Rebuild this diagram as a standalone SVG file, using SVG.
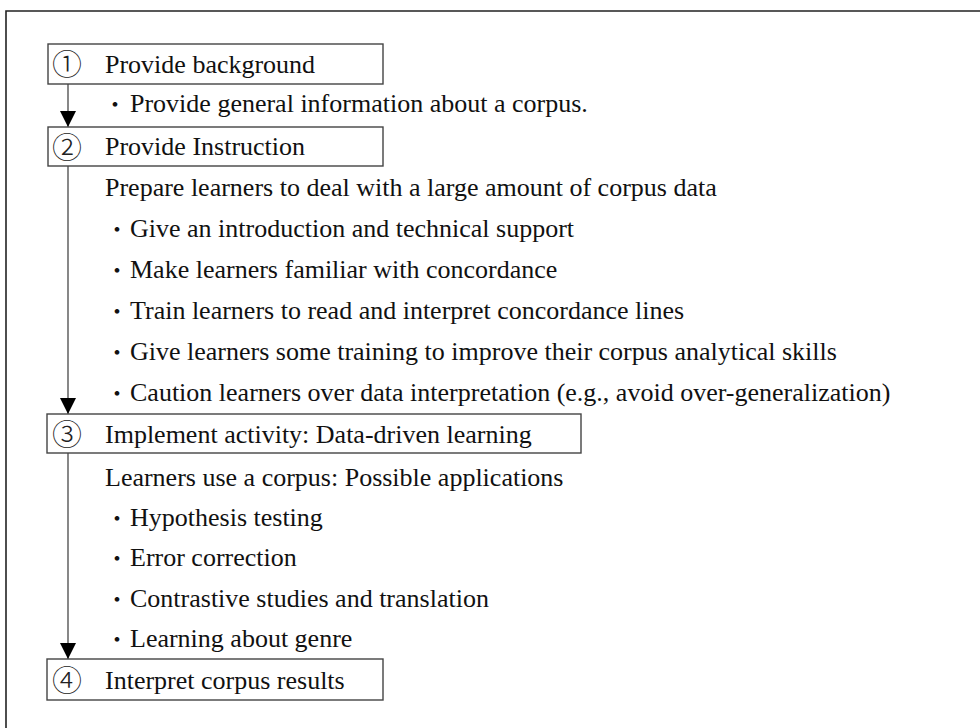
<svg xmlns="http://www.w3.org/2000/svg" width="980" height="728" viewBox="0 0 980 728">
<style>
.t{font-family:"Liberation Serif","Times New Roman",serif;font-size:26px;fill:#111;}
.n{font-family:"Noto Sans CJK JP","DejaVu Sans",sans-serif;font-size:30px;fill:#222;font-weight:300;}
.d{font-family:"Noto Sans CJK JP","DejaVu Sans",sans-serif;font-size:22px;fill:#111;}
.box{fill:#fff;stroke:#444;stroke-width:1.4;}
.conn{stroke:#555;stroke-width:1.4;fill:none;marker-end:url(#ah);}
</style>
<defs>
<marker id="ah" viewBox="0 0 16 16" refX="16" refY="8" markerWidth="16" markerHeight="16" markerUnits="userSpaceOnUse" orient="auto">
<path d="M0,0 L16,8 L0,16 z" fill="#000"/>
</marker>
</defs>
<rect width="980" height="728" fill="#fff"/>
<path d="M6,728 L6,11 L980,11" fill="none" stroke="#222" stroke-width="1.6"/>

<g id="connectors">
<line class="conn" x1="68" y1="84" x2="68" y2="127"/>
<line class="conn" x1="68" y1="166" x2="68" y2="414"/>
<line class="conn" x1="68" y1="453" x2="68" y2="659"/>
</g>

<g id="step1">
<rect class="box" x="48" y="44" width="335" height="40"/>
<text class="n" x="67" y="75" text-anchor="middle">①</text>
<text class="t" x="105" y="73">Provide background</text>
</g>
<g id="step1-notes">
<text class="d" x="115" y="112" text-anchor="middle">・</text>
<text class="t" x="130" y="112">Provide general information about a corpus.</text>
</g>

<g id="step2">
<rect class="box" x="48" y="127" width="335" height="39"/>
<text class="n" x="67" y="158" text-anchor="middle">②</text>
<text class="t" x="105" y="155">Provide Instruction</text>
</g>
<g id="step2-notes">
<text class="t" x="105" y="196">Prepare learners to deal with a large amount of corpus data</text>
<text class="d" x="117" y="237" text-anchor="middle">・</text>
<text class="t" x="130" y="237">Give an introduction and technical support</text>
<text class="d" x="117" y="278" text-anchor="middle">・</text>
<text class="t" x="130" y="278">Make learners familiar with concordance</text>
<text class="d" x="117" y="319" text-anchor="middle">・</text>
<text class="t" x="130" y="319">Train learners to read and interpret concordance lines</text>
<text class="d" x="117" y="360" text-anchor="middle">・</text>
<text class="t" x="130" y="360">Give learners some training to improve their corpus analytical skills</text>
<text class="d" x="117" y="401" text-anchor="middle">・</text>
<text class="t" x="130" y="401">Caution learners over data interpretation (e.g., avoid over-generalization)</text>
</g>

<g id="step3">
<rect class="box" x="47" y="414" width="534" height="39"/>
<text class="n" x="67" y="445" text-anchor="middle">③</text>
<text class="t" x="105" y="443">Implement activity: Data-driven learning</text>
</g>
<g id="step3-notes">
<text class="t" x="105" y="486">Learners use a corpus: Possible applications</text>
<text class="d" x="117" y="526" text-anchor="middle">・</text>
<text class="t" x="130" y="526">Hypothesis testing</text>
<text class="d" x="117" y="566" text-anchor="middle">・</text>
<text class="t" x="130" y="566">Error correction</text>
<text class="d" x="117" y="607" text-anchor="middle">・</text>
<text class="t" x="130" y="607">Contrastive studies and translation</text>
<text class="d" x="117" y="647" text-anchor="middle">・</text>
<text class="t" x="130" y="647">Learning about genre</text>
</g>

<g id="step4">
<rect class="box" x="47" y="659" width="336" height="41"/>
<text class="n" x="67" y="691" text-anchor="middle">④</text>
<text class="t" x="105" y="689">Interpret corpus results</text>
</g>
</svg>
